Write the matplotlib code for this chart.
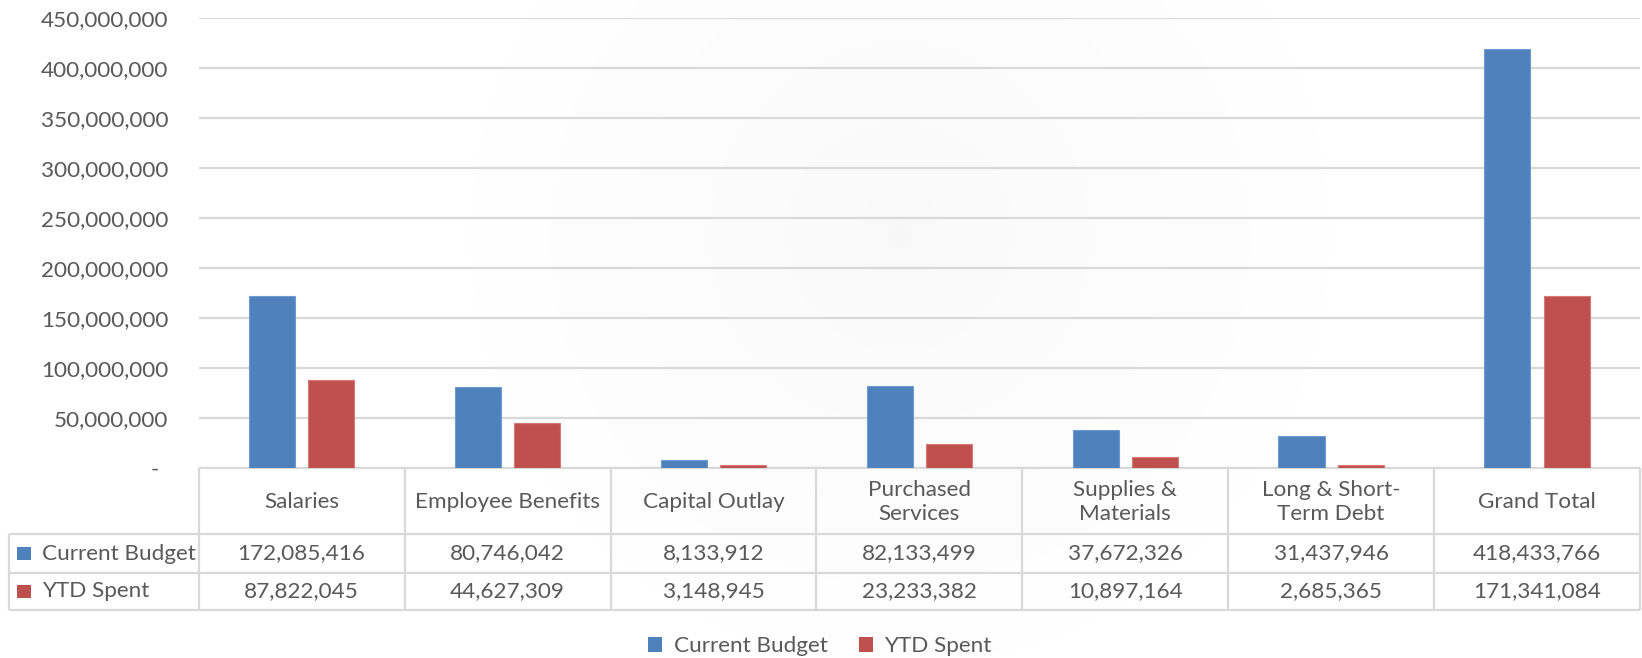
import numpy as np
import matplotlib
matplotlib.use("Agg")
import matplotlib.pyplot as plt
from matplotlib.patches import Patch, Circle, Rectangle
from matplotlib.transforms import blended_transform_factory
from matplotlib.ticker import FuncFormatter

# ---------------- data ----------------
categories = ["Salaries", "Employee Benefits", "Capital Outlay", "Purchased\nServices",
              "Supplies &\nMaterials", "Long & Short-\nTerm Debt", "Grand Total"]
series_names = ["Current Budget", "YTD Spent"]
current_budget = [172085416, 80746042, 8133912, 82133499, 37672326, 31437946, 418433766]
ytd_spent = [87822045, 44627309, 3148945, 23233382, 10897164, 2685365, 171341084]
y_ticks = list(range(0, 450_000_001, 50_000_000))

# ---------------- style ----------------
W, H = 1642, 658
BLUE = "#4f81bd"
RED = "#c0504d"
TXT = "#595959"
GRID = "#d9d9d9"
FS = 16.2
plt.rcParams["font.family"] = ["Lato", "DejaVu Sans"]

fig = plt.figure(figsize=(W / 100, H / 100), dpi=100, facecolor="white")

# pixel-coordinate overlay for watermark + table
pax = fig.add_axes([0, 0, 1, 1], zorder=0)
pax.set_xlim(0, W)
pax.set_ylim(H, 0)
pax.axis("off")

# very faint watermark rings
for r, a in [(430, 0.005), (350, 0.005), (270, 0.006), (190, 0.006), (115, 0.007), (45, 0.008), (12, 0.012)]:
    pax.add_patch(Circle((900, 235), r, facecolor="#8080a0", alpha=a, edgecolor="none"))

# main plot axes
left_px, right_px, top_px, zero_px = 198.7, 1640.0, 17.7, 467.7
ax = fig.add_axes([left_px / W, 1 - zero_px / H, (right_px - left_px) / W, (zero_px - top_px) / H], zorder=1)
ax.patch.set_alpha(0)

n = len(categories)
x = np.arange(n)
bw = 0.224
off = 0.144
ax.bar(x - off, current_budget, bw, color=BLUE, edgecolor="#6f9bd0", linewidth=0.8,
       label=series_names[0], zorder=3)
ax.bar(x + off, ytd_spent, bw, color=RED, edgecolor="#d77875", linewidth=0.8,
       label=series_names[1], zorder=3)

ax.set_xlim(-0.5, n - 0.5)
ax.set_ylim(0, y_ticks[-1])
ax.set_yticks(y_ticks)
ax.yaxis.set_major_formatter(FuncFormatter(lambda v, p: f"{v:,.0f}" if v else "-"))
ax.tick_params(axis="y", length=0, pad=21.8, labelsize=FS, labelcolor=TXT)
ax.set_xticks([])
for s in ax.spines.values():
    s.set_visible(False)
ax.grid(axis="y", color=GRID, linewidth=1.6, zorder=0)
ax.set_axisbelow(True)
ticks = ax.yaxis.get_major_ticks()
ticks[0].set_pad(29.0)

# ---------------- data table ----------------
tr = blended_transform_factory(ax.transData, pax.transData)
hdr_top, hdr_bot, r1_bot, r2_bot = 467.7, 534.3, 572.7, 610.0
row_left = 8.7
lw = 1.6
pax.plot([-0.5, n - 0.5], [hdr_top, hdr_top], transform=tr, color=GRID, lw=lw, solid_capstyle="butt")
for yy in (hdr_bot, r1_bot, r2_bot):
    pax.plot([row_left, W - 2], [yy, yy], color=GRID, lw=lw, solid_capstyle="butt")
for k in range(n + 1):
    pax.plot([k - 0.5, k - 0.5], [hdr_top, r2_bot], transform=tr, color=GRID, lw=lw, solid_capstyle="butt")
pax.plot([row_left, row_left], [hdr_bot, r2_bot], color=GRID, lw=lw, solid_capstyle="butt")

for i, c in enumerate(categories):
    pax.text(i, (hdr_top + hdr_bot) / 2 + 1, c, transform=tr, ha="center", va="center",
             fontsize=FS, color=TXT, linespacing=1.3)

rows = [(series_names[0], current_budget, BLUE, (hdr_bot + r1_bot) / 2),
        (series_names[1], ytd_spent, RED, (r1_bot + r2_bot) / 2)]
for name, vals, col, yc in rows:
    pax.add_patch(Rectangle((17, yc - 6.8), 13.6, 13.6, facecolor=col, edgecolor="none"))
    pax.text(42, yc, name, ha="left", va="center", fontsize=FS, color=TXT)
    for i, v in enumerate(vals):
        pax.text(i, yc, f"{v:,.0f}", transform=tr, ha="center", va="center", fontsize=FS, color=TXT)

# ---------------- legend ----------------
handles = [Patch(facecolor=BLUE), Patch(facecolor=RED)]
fig.legend(handles, series_names, loc="center", bbox_to_anchor=(820 / W, 1 - 646.5 / H),
           ncol=2, frameon=False, fontsize=FS, labelcolor=TXT,
           handlelength=0.62, handleheight=0.62, handletextpad=0.5, columnspacing=1.4)

fig.savefig("out.png", dpi=100, facecolor="white")
